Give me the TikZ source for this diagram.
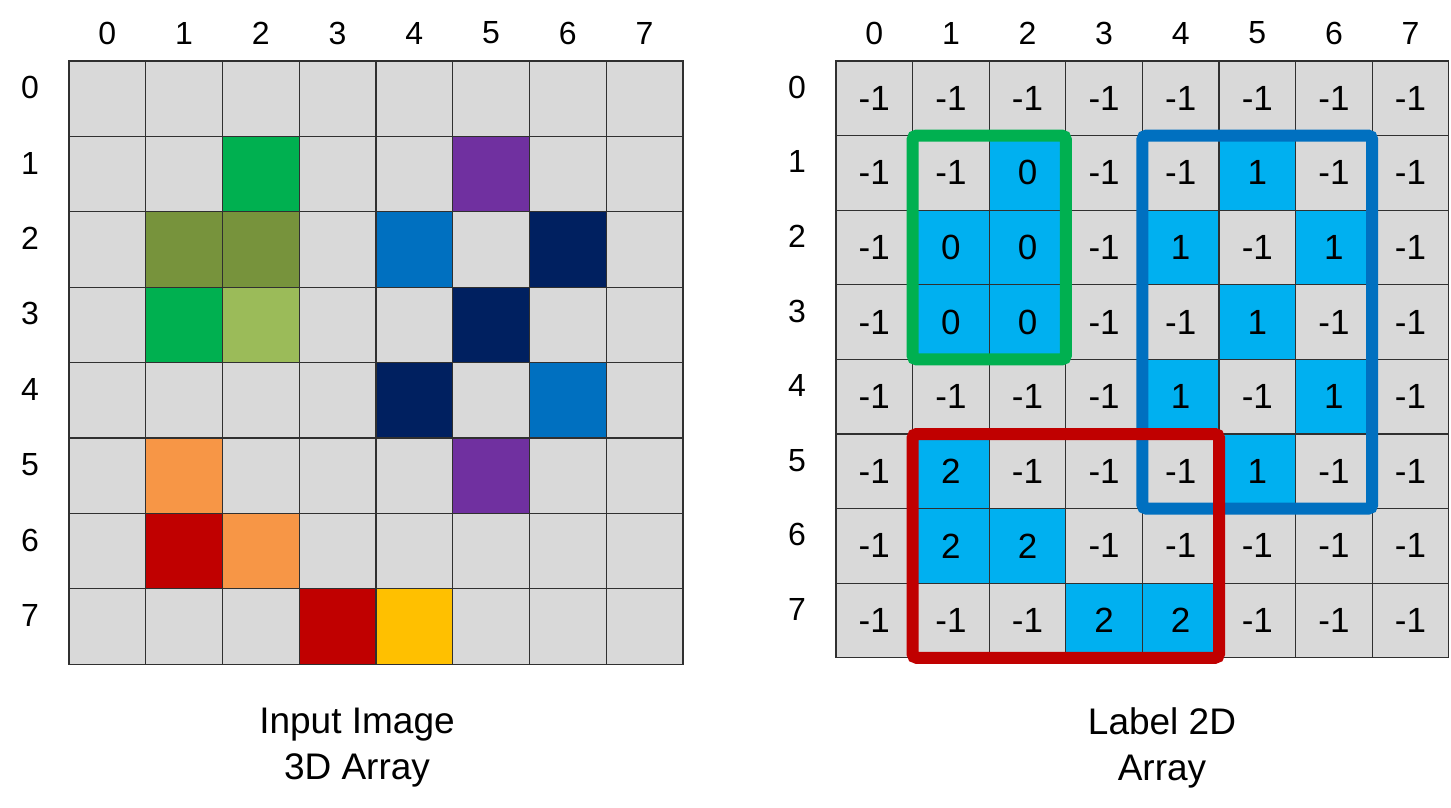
\documentclass[tikz,border=0pt]{standalone}
\usepackage{fontspec}
\setmainfont{Liberation Sans}
\definecolor{cg}{HTML}{D9D9D9}
\definecolor{cG}{HTML}{00B050}
\definecolor{cP}{HTML}{7030A0}
\definecolor{cO}{HTML}{77933C}
\definecolor{cB}{HTML}{0070C0}
\definecolor{cN}{HTML}{002060}
\definecolor{cL}{HTML}{9BBB59}
\definecolor{cOr}{HTML}{F79646}
\definecolor{cR}{HTML}{C00000}
\definecolor{cY}{HTML}{FFC000}
\definecolor{cy}{HTML}{00B0F0}
\definecolor{gridc}{HTML}{303030}
\begin{document}
\begin{tikzpicture}[x=1pt,y=-1pt,
  lcell/.style={draw=gridc,line width=1.2pt,minimum width=76.75pt,minimum height=75.4pt,inner sep=0pt,outer sep=0pt},
  rcell/.style={draw=gridc,line width=1.2pt,minimum width=76.6pt,minimum height=74.6pt,inner sep=0pt,outer sep=0pt,font=\fontsize{35}{42}\selectfont},
  hdr/.style={font=\fontsize{32}{38}\selectfont,inner sep=0pt},
  capt/.style={font=\fontsize{37}{46}\selectfont,align=center,inner sep=0pt},
  grp/.style={line width=12pt,rounded corners=4pt}]
\useasboundingbox (0,0) rectangle (1451,808);
% left grid
\foreach \r/\row in {0/{cg,cg,cg,cg,cg,cg,cg,cg},
                     1/{cg,cg,cG,cg,cg,cP,cg,cg},
                     2/{cg,cO,cO,cg,cB,cg,cN,cg},
                     3/{cg,cG,cL,cg,cg,cN,cg,cg},
                     4/{cg,cg,cg,cg,cN,cg,cB,cg},
                     5/{cg,cOr,cg,cg,cg,cP,cg,cg},
                     6/{cg,cR,cOr,cg,cg,cg,cg,cg},
                     7/{cg,cg,cg,cR,cY,cg,cg,cg}}{
  \foreach \col [count=\c from 0] in \row {
    \node[lcell,fill=\col] (L-\r-\c) at ({69+(\c+0.5)*76.75},{61+(\r+0.5)*75.4}) {};
  }
}
\foreach \i in {0,...,7}{
  \node[hdr] (LH-\i) at ({69+(\i+0.5)*76.75},33) {\i};
  \node[hdr] (LR-\i) at (30,{61+(\i+0.5)*75.4-11}) {\i};
}
% right grid
\foreach \r/\row in {0/{-1,-1,-1,-1,-1,-1,-1,-1},
                     1/{-1,-1,0,-1,-1,1,-1,-1},
                     2/{-1,0,0,-1,1,-1,1,-1},
                     3/{-1,0,0,-1,-1,1,-1,-1},
                     4/{-1,-1,-1,-1,1,-1,1,-1},
                     5/{-1,2,-1,-1,-1,1,-1,-1},
                     6/{-1,2,2,-1,-1,-1,-1,-1},
                     7/{-1,-1,-1,2,2,-1,-1,-1}}{
  \foreach \v [count=\c from 0] in \row {
    \ifnum\v<0 \def\fc{cg}\else\def\fc{cy}\fi
    \node[rcell,fill=\fc] (R-\r-\c) at ({836+(\c+0.5)*76.6},{61+(\r+0.5)*74.6}) {\v};
  }
}
\foreach \i in {0,...,7}{
  \node[hdr] (RH-\i) at ({836+(\i+0.5)*76.6},33) {\i};
  \node[hdr] (RR-\i) at (797,{61+(\i+0.5)*74.6-11}) {\i};
}
% group boxes
\draw[grp,draw=cG] (R-1-1.north west) rectangle (R-3-2.south east);
\draw[grp,draw=cB] (R-1-4.north west) rectangle (R-5-6.south east);
\draw[grp,draw=cR] (R-5-1.north west) rectangle (R-7-4.south east);
% captions
\node[capt] (capL) at (357,748) {Input Image\\3D Array};
\node[capt] (capR) at (1162,748) {Label 2D\\Array};
\end{tikzpicture}
\end{document}
